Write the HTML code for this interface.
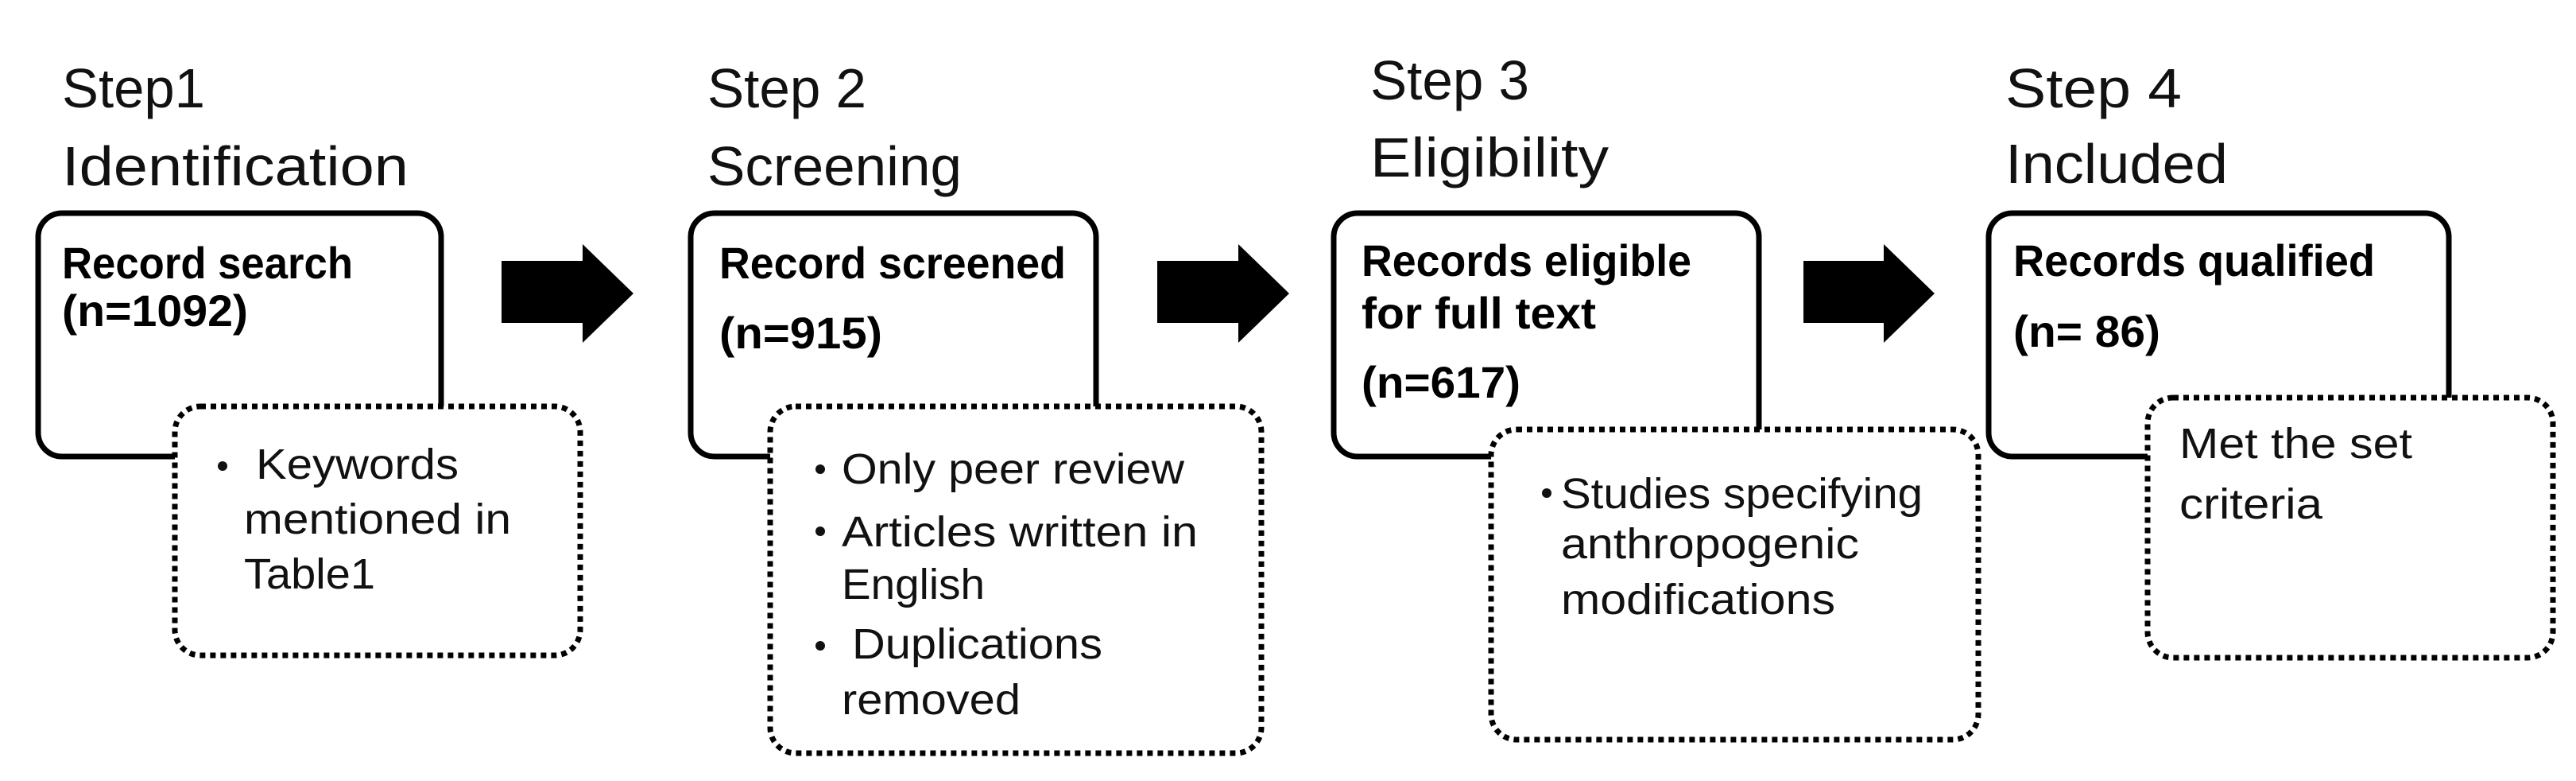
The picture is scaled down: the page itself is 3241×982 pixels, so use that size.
<!DOCTYPE html>
<html><head><meta charset="utf-8"><style>html,body{margin:0;padding:0;background:#fff}svg{display:block}</style></head>
<body>
<svg width="3241" height="982" viewBox="0 0 3241 982" xmlns="http://www.w3.org/2000/svg" font-family="'Liberation Sans', sans-serif">
<rect width="3241" height="982" fill="#fff"/>
<g font-size="70" fill="#111">
<text x="78" y="135" textLength="180" lengthAdjust="spacingAndGlyphs">Step1</text>
<text x="78" y="233" textLength="436" lengthAdjust="spacingAndGlyphs">Identification</text>
<text x="890" y="135" textLength="200" lengthAdjust="spacingAndGlyphs">Step 2</text>
<text x="890" y="233" textLength="320" lengthAdjust="spacingAndGlyphs">Screening</text>
<text x="1724" y="125" textLength="200" lengthAdjust="spacingAndGlyphs">Step 3</text>
<text x="1724" y="222" textLength="300" lengthAdjust="spacingAndGlyphs">Eligibility</text>
<text x="2523" y="135" textLength="222" lengthAdjust="spacingAndGlyphs">Step  4</text>
<text x="2523" y="230" textLength="280" lengthAdjust="spacingAndGlyphs">Included</text>
</g>
<g fill="#fff" stroke="#000" stroke-width="7">
<rect x="48" y="268" width="507" height="306" rx="30"/>
<rect x="869" y="268" width="510" height="306" rx="30"/>
<rect x="1678" y="268" width="535" height="306" rx="30"/>
<rect x="2502" y="268" width="579" height="306" rx="30"/>
</g>
<g fill="#000">
<polygon points="631,328 733,328 733,307 797,369 733,431 733,406 631,406"/>
<polygon points="1456,328 1558,328 1558,307 1622,369 1558,431 1558,406 1456,406"/>
<polygon points="2269,328 2370,328 2370,307 2434,369 2370,431 2370,406 2269,406"/>
</g>
<g fill="#fff" stroke="#000" stroke-width="7" stroke-dasharray="7 6">
<rect x="220" y="511" width="510" height="313" rx="32"/>
<rect x="969" y="511" width="618" height="436" rx="32"/>
<rect x="1876" y="540" width="613" height="390" rx="32"/>
<rect x="2702" y="500" width="510" height="327" rx="32"/>
</g>
<g font-size="56" font-weight="bold" fill="#000">
<text x="78" y="350" textLength="366" lengthAdjust="spacingAndGlyphs">Record search</text>
<text x="78" y="410" textLength="234" lengthAdjust="spacingAndGlyphs">(n=1092)</text>
<text x="905" y="350" textLength="436" lengthAdjust="spacingAndGlyphs">Record screened</text>
<text x="905" y="438" textLength="205" lengthAdjust="spacingAndGlyphs">(n=915)</text>
<text x="1713" y="347" textLength="415" lengthAdjust="spacingAndGlyphs">Records eligible</text>
<text x="1713" y="413" textLength="295" lengthAdjust="spacingAndGlyphs">for full text</text>
<text x="1713" y="500" textLength="200" lengthAdjust="spacingAndGlyphs">(n=617)</text>
<text x="2533" y="347" textLength="455" lengthAdjust="spacingAndGlyphs">Records qualified</text>
<text x="2533" y="436" textLength="185" lengthAdjust="spacingAndGlyphs">(n= 86)</text>
</g>
<g font-size="54" fill="#111">
<circle cx="280" cy="586" r="6"/>
<text x="322" y="602" textLength="255" lengthAdjust="spacingAndGlyphs">Keywords</text>
<text x="307" y="671" textLength="336" lengthAdjust="spacingAndGlyphs">mentioned in</text>
<text x="307" y="740" textLength="165" lengthAdjust="spacingAndGlyphs">Table1</text>
<circle cx="1032" cy="590" r="6"/>
<text x="1059" y="608" textLength="431" lengthAdjust="spacingAndGlyphs">Only peer review</text>
<circle cx="1032" cy="668" r="6"/>
<text x="1059" y="687" textLength="448" lengthAdjust="spacingAndGlyphs">Articles written in</text>
<text x="1059" y="753" textLength="180" lengthAdjust="spacingAndGlyphs">English</text>
<circle cx="1032" cy="812" r="6"/>
<text x="1072" y="828" textLength="315" lengthAdjust="spacingAndGlyphs">Duplications</text>
<text x="1059" y="898" textLength="225" lengthAdjust="spacingAndGlyphs">removed</text>
<circle cx="1946" cy="620" r="6"/>
<text x="1964" y="639" textLength="455" lengthAdjust="spacingAndGlyphs">Studies specifying</text>
<text x="1964" y="702" textLength="375" lengthAdjust="spacingAndGlyphs">anthropogenic</text>
<text x="1964" y="772" textLength="345" lengthAdjust="spacingAndGlyphs">modifications</text>
<text x="2742" y="576" textLength="293" lengthAdjust="spacingAndGlyphs">Met the set</text>
<text x="2742" y="652" textLength="180" lengthAdjust="spacingAndGlyphs">criteria</text>
</g>
</svg>
</body></html>
